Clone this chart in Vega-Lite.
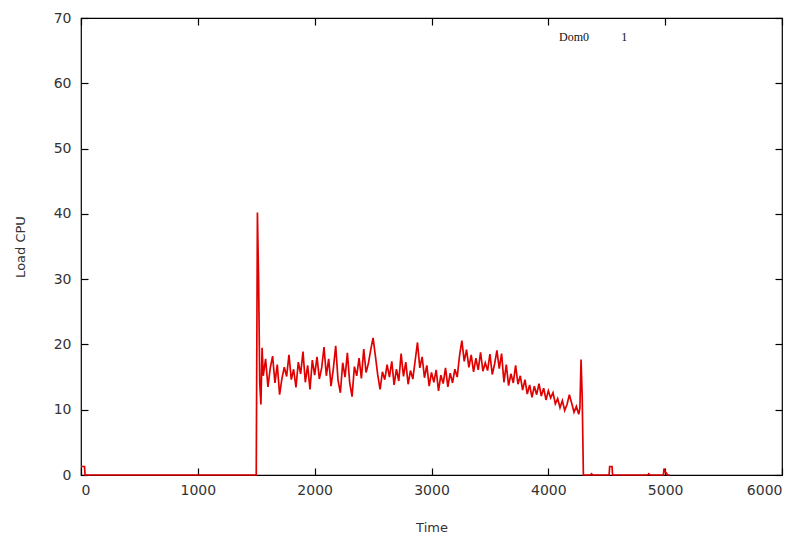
{
  "$schema": "https://vega.github.io/schema/vega-lite/v6.json",
  "width": 701,
  "height": 457,
  "autosize": {"type": "none"},
  "padding": {"left": 81, "top": 18, "right": 23, "bottom": 61},
  "background": "white",
  "config": {
    "view": {"stroke": "#000", "strokeWidth": 1.2},
    "axis": {
      "labelFont": "DejaVu Sans", "labelFontSize": 14, "labelColor": "#333",
      "titleFont": "DejaVu Sans", "titleFontSize": 13, "titleFontWeight": "normal", "titleColor": "#333",
      "grid": false, "domain": false, "tickColor": "#000", "tickWidth": 1.2
    }
  },
  "datasets": {
    "cpu": [
      {"t": 0, "v": 1.3}, {"t": 30, "v": 1.3}, {"t": 35, "v": 0}, {"t": 500, "v": 0}, {"t": 1000, "v": 0}, {"t": 1500, "v": 0},
      {"t": 1505, "v": 20}, {"t": 1510, "v": 40.2}, {"t": 1520, "v": 30}, {"t": 1530, "v": 14}, {"t": 1540, "v": 10.8}, {"t": 1550, "v": 19.5},
      {"t": 1560, "v": 15.2}, {"t": 1580, "v": 17.8}, {"t": 1600, "v": 13.5}, {"t": 1620, "v": 16.4}, {"t": 1640, "v": 18.2},
      {"t": 1660, "v": 14.1}, {"t": 1680, "v": 16.9}, {"t": 1700, "v": 12.3}, {"t": 1720, "v": 14.8}, {"t": 1740, "v": 16.5},
      {"t": 1760, "v": 15.1}, {"t": 1780, "v": 18.4}, {"t": 1800, "v": 14.6}, {"t": 1820, "v": 16.2}, {"t": 1840, "v": 13.4},
      {"t": 1860, "v": 17.3}, {"t": 1880, "v": 15.5}, {"t": 1900, "v": 18.9}, {"t": 1920, "v": 14.2}, {"t": 1940, "v": 16.8},
      {"t": 1960, "v": 13.1}, {"t": 1980, "v": 17.6}, {"t": 2000, "v": 15.3}, {"t": 2020, "v": 18.1}, {"t": 2040, "v": 14.7},
      {"t": 2060, "v": 16.4}, {"t": 2080, "v": 19.6}, {"t": 2100, "v": 15.2}, {"t": 2120, "v": 17.8}, {"t": 2140, "v": 13.6},
      {"t": 2160, "v": 16.3}, {"t": 2180, "v": 19.8}, {"t": 2200, "v": 14.5}, {"t": 2220, "v": 12.6}, {"t": 2240, "v": 17.2},
      {"t": 2260, "v": 15.0}, {"t": 2280, "v": 18.7}, {"t": 2300, "v": 14.1}, {"t": 2320, "v": 12.0}, {"t": 2340, "v": 16.6},
      {"t": 2360, "v": 15.2}, {"t": 2380, "v": 17.9}, {"t": 2400, "v": 14.8}, {"t": 2420, "v": 19.3}, {"t": 2440, "v": 15.7},
      {"t": 2460, "v": 17.1}, {"t": 2480, "v": 19.2}, {"t": 2500, "v": 21.0}, {"t": 2520, "v": 18.2}, {"t": 2540, "v": 15.3},
      {"t": 2560, "v": 13.1}, {"t": 2580, "v": 15.8}, {"t": 2600, "v": 14.6}, {"t": 2620, "v": 16.9}, {"t": 2640, "v": 15.0},
      {"t": 2660, "v": 17.4}, {"t": 2680, "v": 13.8}, {"t": 2700, "v": 16.2}, {"t": 2720, "v": 14.4}, {"t": 2740, "v": 18.6},
      {"t": 2760, "v": 15.1}, {"t": 2780, "v": 17.3}, {"t": 2800, "v": 13.9}, {"t": 2820, "v": 16.0}, {"t": 2840, "v": 14.7},
      {"t": 2860, "v": 17.5}, {"t": 2880, "v": 20.3}, {"t": 2900, "v": 16.4}, {"t": 2920, "v": 18.1}, {"t": 2940, "v": 14.9},
      {"t": 2960, "v": 16.8}, {"t": 2980, "v": 13.6}, {"t": 3000, "v": 15.7}, {"t": 3020, "v": 14.2}, {"t": 3040, "v": 16.1},
      {"t": 3060, "v": 12.9}, {"t": 3080, "v": 15.3}, {"t": 3100, "v": 14.0}, {"t": 3120, "v": 16.4}, {"t": 3140, "v": 13.5},
      {"t": 3160, "v": 15.6}, {"t": 3180, "v": 14.1}, {"t": 3200, "v": 16.2}, {"t": 3220, "v": 15.0}, {"t": 3240, "v": 18.3},
      {"t": 3260, "v": 20.6}, {"t": 3280, "v": 17.4}, {"t": 3300, "v": 19.2}, {"t": 3320, "v": 16.5}, {"t": 3340, "v": 18.4},
      {"t": 3360, "v": 15.8}, {"t": 3380, "v": 17.9}, {"t": 3400, "v": 16.1}, {"t": 3420, "v": 18.8}, {"t": 3440, "v": 15.9},
      {"t": 3460, "v": 17.2}, {"t": 3480, "v": 16.0}, {"t": 3500, "v": 18.5}, {"t": 3520, "v": 15.4}, {"t": 3540, "v": 17.0},
      {"t": 3560, "v": 19.1}, {"t": 3580, "v": 16.3}, {"t": 3600, "v": 18.6}, {"t": 3620, "v": 14.2}, {"t": 3640, "v": 16.9},
      {"t": 3660, "v": 13.7}, {"t": 3680, "v": 15.5}, {"t": 3700, "v": 14.1}, {"t": 3720, "v": 16.8}, {"t": 3740, "v": 13.9},
      {"t": 3760, "v": 15.2}, {"t": 3780, "v": 13.0}, {"t": 3800, "v": 14.6}, {"t": 3820, "v": 12.4}, {"t": 3840, "v": 13.8},
      {"t": 3860, "v": 11.9}, {"t": 3880, "v": 13.6}, {"t": 3900, "v": 12.3}, {"t": 3920, "v": 14.0}, {"t": 3940, "v": 12.1},
      {"t": 3960, "v": 13.3}, {"t": 3980, "v": 11.5}, {"t": 4000, "v": 12.9}, {"t": 4020, "v": 11.8}, {"t": 4040, "v": 12.6},
      {"t": 4060, "v": 10.9}, {"t": 4080, "v": 11.7}, {"t": 4100, "v": 10.3}, {"t": 4120, "v": 11.4}, {"t": 4140, "v": 9.9},
      {"t": 4160, "v": 10.8}, {"t": 4180, "v": 12.3}, {"t": 4200, "v": 11.0}, {"t": 4220, "v": 9.6}, {"t": 4240, "v": 10.5},
      {"t": 4260, "v": 9.3}, {"t": 4270, "v": 10.2}, {"t": 4280, "v": 17.7}, {"t": 4290, "v": 12}, {"t": 4300, "v": 0},
      {"t": 4360, "v": 0}, {"t": 4370, "v": 0.2}, {"t": 4380, "v": 0}, {"t": 4520, "v": 0}, {"t": 4525, "v": 1.3},
      {"t": 4545, "v": 1.3}, {"t": 4550, "v": 0}, {"t": 4850, "v": 0}, {"t": 4860, "v": 0.2}, {"t": 4870, "v": 0},
      {"t": 4985, "v": 0}, {"t": 4990, "v": 1.0}, {"t": 5000, "v": 0.5}, {"t": 5010, "v": 0.3}, {"t": 5020, "v": 0}, {"t": 5040, "v": 0}
    ],
    "key": [
      {"t": 4220, "v": 67.1, "label": "Dom0"},
      {"t": 4650, "v": 67.1, "label": "1"}
    ]
  },
  "layer": [
    {
      "data": {"name": "cpu"},
      "mark": {"type": "line", "color": "#e00000", "strokeWidth": 1.7},
      "encoding": {
        "x": {"field": "t", "type": "quantitative", "scale": {"domain": [0, 6000], "nice": false},
              "axis": {"title": "Time", "orient": "bottom", "format": "d", "values": [0,1000,2000,3000,4000,5000,6000], "tickSize": -7, "labelPadding": 15, "titlePadding": 24}},
        "y": {"field": "v", "type": "quantitative", "scale": {"domain": [0, 70], "nice": false},
              "axis": {"title": "Load CPU", "orient": "left", "values": [0,10,20,30,40,50,60,70], "tickSize": -7, "labelPadding": 17, "titlePadding": 26}}
      }
    },
    {
      "data": {"name": "key"},
      "mark": {"type": "text", "font": "Liberation Serif", "fontSize": 12, "color": "#111", "align": "center", "baseline": "middle"},
      "encoding": {
        "x": {"field": "t", "type": "quantitative", "axis": {"orient": "top", "labels": false, "title": null, "values": [0,1000,2000,3000,4000,5000,6000], "tickSize": -7}},
        "y": {"field": "v", "type": "quantitative", "axis": {"orient": "right", "labels": false, "title": null, "values": [0,10,20,30,40,50,60,70], "tickSize": -7}},
        "text": {"field": "label"}
      }
    }
  ],
  "resolve": {"axis": {"x": "independent", "y": "independent"}}
}
